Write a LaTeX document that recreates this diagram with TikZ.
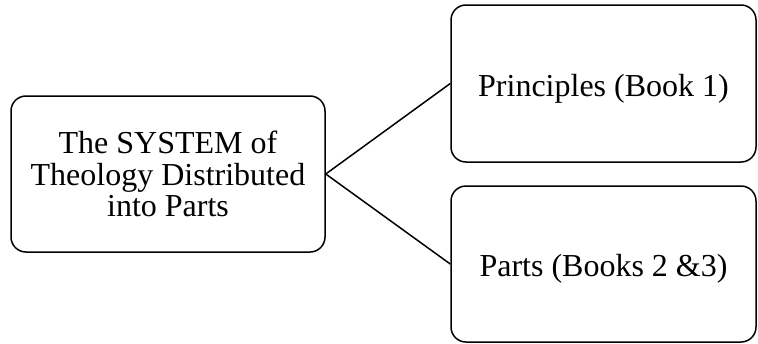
\documentclass[tikz,border=0pt]{standalone}
\usepackage{fontspec}
\setmainfont{Liberation Serif}
\begin{document}
\begin{tikzpicture}[x=1pt,y=-1pt,
  box/.style={draw=black, line width=1.5pt, rounded corners=15pt, align=center,
    font=\fontsize{32}{31.5}\selectfont, inner sep=0pt},
  single/.style={text height=28pt, text depth=3pt},
  link/.style={draw=black, line width=1.5pt}]
\useasboundingbox (0,0) rectangle (758,343);
\node[box, minimum width=314pt, minimum height=156pt] (sys) at (168,174)
  {The SYSTEM of\\Theology Distributed\\into Parts};
\node[box, single, minimum width=305pt, minimum height=157pt] (prin) at (603.5,83.5)
  {Principles (Book 1)};
\node[box, single, minimum width=305pt, minimum height=156pt] (parts) at (603.5,264)
  {Parts (Books 2 \&3)};
\draw[link] (sys.east) -- (prin.west);
\draw[link] (sys.east) -- (parts.west);
\end{tikzpicture}
\end{document}
